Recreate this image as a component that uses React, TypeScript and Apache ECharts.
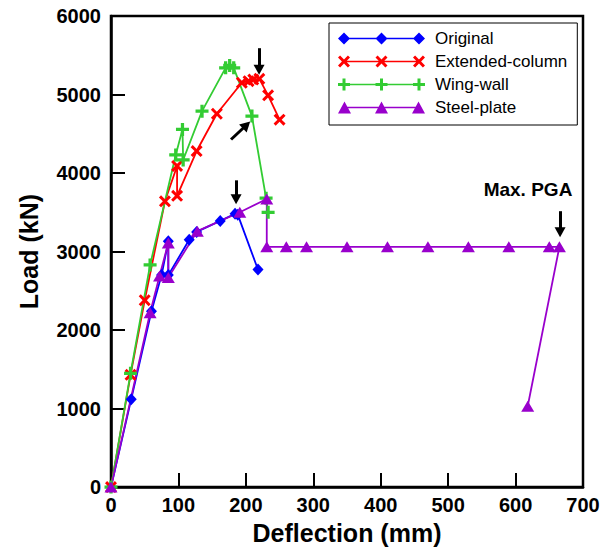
import React, { useEffect, useRef } from "react";
import * as echarts from "echarts";

// ---- Data ----
const originalX = [0, 30, 60, 75, 85, 85, 116, 127, 162, 184, 188, 218];
const originalY = [0, 1120, 2240, 2700, 3130, 2700, 3150, 3250, 3390, 3480, 3470, 2770];

const extendedX = [0, 29, 50, 80, 98, 98, 127, 157, 194, 204, 211, 220, 233, 250];
const extendedY = [0, 1430, 2380, 3640, 4090, 3710, 4280, 4755, 5150, 5170, 5190, 5200, 4990, 4680];

const wingX = [0, 29, 58, 96, 106, 107, 135, 170, 176, 182, 209, 230, 233];
const wingY = [0, 1450, 2830, 4230, 4556, 4166, 4788, 5340, 5370, 5340, 4725, 3680, 3500];

const steelX = [0, 58, 72, 85, 85, 128, 191, 231, 231, 260, 290, 350, 410, 470, 530, 590, 650, 665, 618];
const steelY = [0, 2220, 2690, 3110, 2670, 3260, 3500, 3670, 3060, 3060, 3060, 3060, 3060, 3060, 3060, 3060, 3060, 3060, 1030];

const seriesNames = ["Original", "Extended-column", "Wing-wall", "Steel-plate"];
const seriesColors = ["#0000ff", "#ff0000", "#33cc33", "#9900cc"];

const xTicks = { min: 0, max: 700, interval: 100 };
const yTicks = { min: 0, max: 6000, interval: 1000 };

// Annotation arrows in data coordinates: [fromX, fromY, toX, toY]
const arrows = [
  [219.6, 5590, 219.6, 5315],
  [178, 4427, 201, 4612],
  [185.5, 3907, 185.5, 3666],
  [666, 3514, 666, 3247],
];
const maxPgaLabel = "Max. PGA";

const FONT = "Arial, 'Liberation Sans', sans-serif";

function zip(xs: number[], ys: number[]) {
  return xs.map((x, i) => [x, ys[i]]);
}

// ---- Marker shapes ----
const plusPath = "path://M4.5,0H7.5V4.5H12V7.5H7.5V12H4.5V7.5H0V4.5H4.5Z";
const crossPath =
  "path://M0,2.1L2.1,0L6,3.9L9.9,0L12,2.1L8.1,6L12,9.9L9.9,12L6,8.1L2.1,12L0,9.9L3.9,6Z";

const ICON_CENTERS = [6, 43.5, 81];
const lineBar = "M6,5.25H81V6.75H6Z";
function diamondIcon() {
  return "path://" + lineBar + ICON_CENTERS.map((c) => `M${c - 6},6L${c},0L${c + 6},6L${c},12Z`).join("");
}
function triangleIcon() {
  const cs = [6.5, 43.5, 80.5];
  return "path://M6.5,5.25H80.5V6.75H6.5Z" + cs.map((c) => `M${c - 6.5},12L${c},0L${c + 6.5},12Z`).join("");
}
function plusIcon() {
  return (
    "path://" +
    lineBar +
    ICON_CENTERS.map(
      (c) =>
        `M${c - 1.5},0H${c + 1.5}V4.5H${c + 6}V7.5H${c + 1.5}V12H${c - 1.5}V7.5H${c - 6}V4.5H${c - 1.5}Z`
    ).join("")
  );
}
function crossIcon() {
  const t = 2.1;
  return (
    "path://" +
    lineBar +
    ICON_CENTERS.map((c) => {
      const l = c - 6, r = c + 6;
      return `M${l},${t}L${l + t},0L${c},${6 - t}L${r - t},0L${r},${t}L${c + t},6L${r},${12 - t}L${r - t},12L${c},${6 + t}L${l + t},12L${l},${12 - t}L${c - t},6Z`;
    }).join("")
  );
}

export default function App() {
  const ref = useRef<HTMLDivElement>(null);

  useEffect(() => {
    if (!ref.current) return;
    const chart = echarts.init(ref.current, null, { renderer: "svg" });

    const symbols = ["diamond", crossPath, plusPath, "triangle"];
    const symbolSizes: any[] = [[11, 12], 12, 13, [13, 11]];
    const icons = [diamondIcon(), crossIcon(), plusIcon(), triangleIcon()];
    const datasets = [
      zip(originalX, originalY),
      zip(extendedX, extendedY),
      zip(wingX, wingY),
      zip(steelX, steelY),
    ];

    const series: any[] = datasets.map((d, i) => ({
      name: seriesNames[i],
      type: "line",
      data: d,
      symbol: symbols[i],
      symbolSize: symbolSizes[i],
      showAllSymbol: true,
      clip: false,
      color: seriesColors[i],
      lineStyle: { color: seriesColors[i], width: 1.8 },
      itemStyle: { color: seriesColors[i] },
      emphasis: { disabled: true },
    }));

    series.push({
      name: "annotations",
      type: "line",
      data: [],
      silent: true,
      markLine: {
        silent: true,
        symbol: ["none", "triangle"],
        symbolSize: [11, 10],
        label: { show: false },
        lineStyle: { color: "#000", width: 3, type: "solid" },
        emphasis: { disabled: true },
        data: arrows.map((a) => [
          { coord: [a[0], a[1]] },
          { coord: [a[2], a[3]] },
        ]),
      },
    });

    chart.setOption({
      animation: false,
      grid: {
        left: 111,
        right: 33,
        top: 16,
        bottom: 61,
        show: true,
        borderColor: "#000",
        borderWidth: 2.5,
        backgroundColor: "transparent",
      },
      legend: {
        orient: "vertical",
        left: 329,
        top: 23,
        padding: [7, 10, 9, 9],
        itemGap: 6,
        itemWidth: 87,
        itemHeight: 12,
        borderColor: "#000",
        borderWidth: 1,
        data: seriesNames.map((n, i) => ({ name: n, icon: icons[i], itemStyle: { color: seriesColors[i] } })),
        textStyle: { fontFamily: FONT, fontSize: 17, color: "#000", padding: [0, 0, 0, 5] },
        selectedMode: false,
      },
      xAxis: {
        type: "value",
        min: xTicks.min,
        max: xTicks.max,
        interval: xTicks.interval,
        name: "Deflection (mm)",
        nameLocation: "middle",
        nameGap: 27,
        nameTextStyle: { fontFamily: FONT, fontSize: 25, fontWeight: "bold", color: "#000" },
        axisLine: { show: true, lineStyle: { color: "#000", width: 2.5 } },
        axisTick: { show: true, inside: true, length: 14, lineStyle: { color: "#000", width: 2 } },
        axisLabel: { fontFamily: FONT, fontSize: 20, fontWeight: "bold", color: "#000", margin: 8, formatter: (v: number) => String(v) },
        splitLine: { show: false },
      },
      yAxis: {
        type: "value",
        min: yTicks.min,
        max: yTicks.max,
        interval: yTicks.interval,
        name: "Load (kN)",
        nameLocation: "middle",
        nameGap: 70,
        nameTextStyle: { fontFamily: FONT, fontSize: 25, fontWeight: "bold", color: "#000" },
        axisLine: { show: true, lineStyle: { color: "#000", width: 2.5 } },
        axisTick: { show: true, inside: true, length: 14, lineStyle: { color: "#000", width: 2 } },
        axisLabel: { fontFamily: FONT, fontSize: 20, fontWeight: "bold", color: "#000", margin: 10, formatter: (v: number) => String(v) },
        splitLine: { show: false },
      },
      graphic: [
        {
          type: "text",
          x: 528,
          y: 189,
          style: {
            text: maxPgaLabel,
            fontFamily: FONT,
            fontSize: 19,
            fontWeight: "bold",
            fill: "#000",
            textAlign: "center",
            textVerticalAlign: "middle",
          },
        },
      ],
      series,
    });

    return () => chart.dispose();
  }, []);

  return <div ref={ref} style={{ position: "absolute", left: 0, top: 0, width: 616, height: 550 }} />;
}
